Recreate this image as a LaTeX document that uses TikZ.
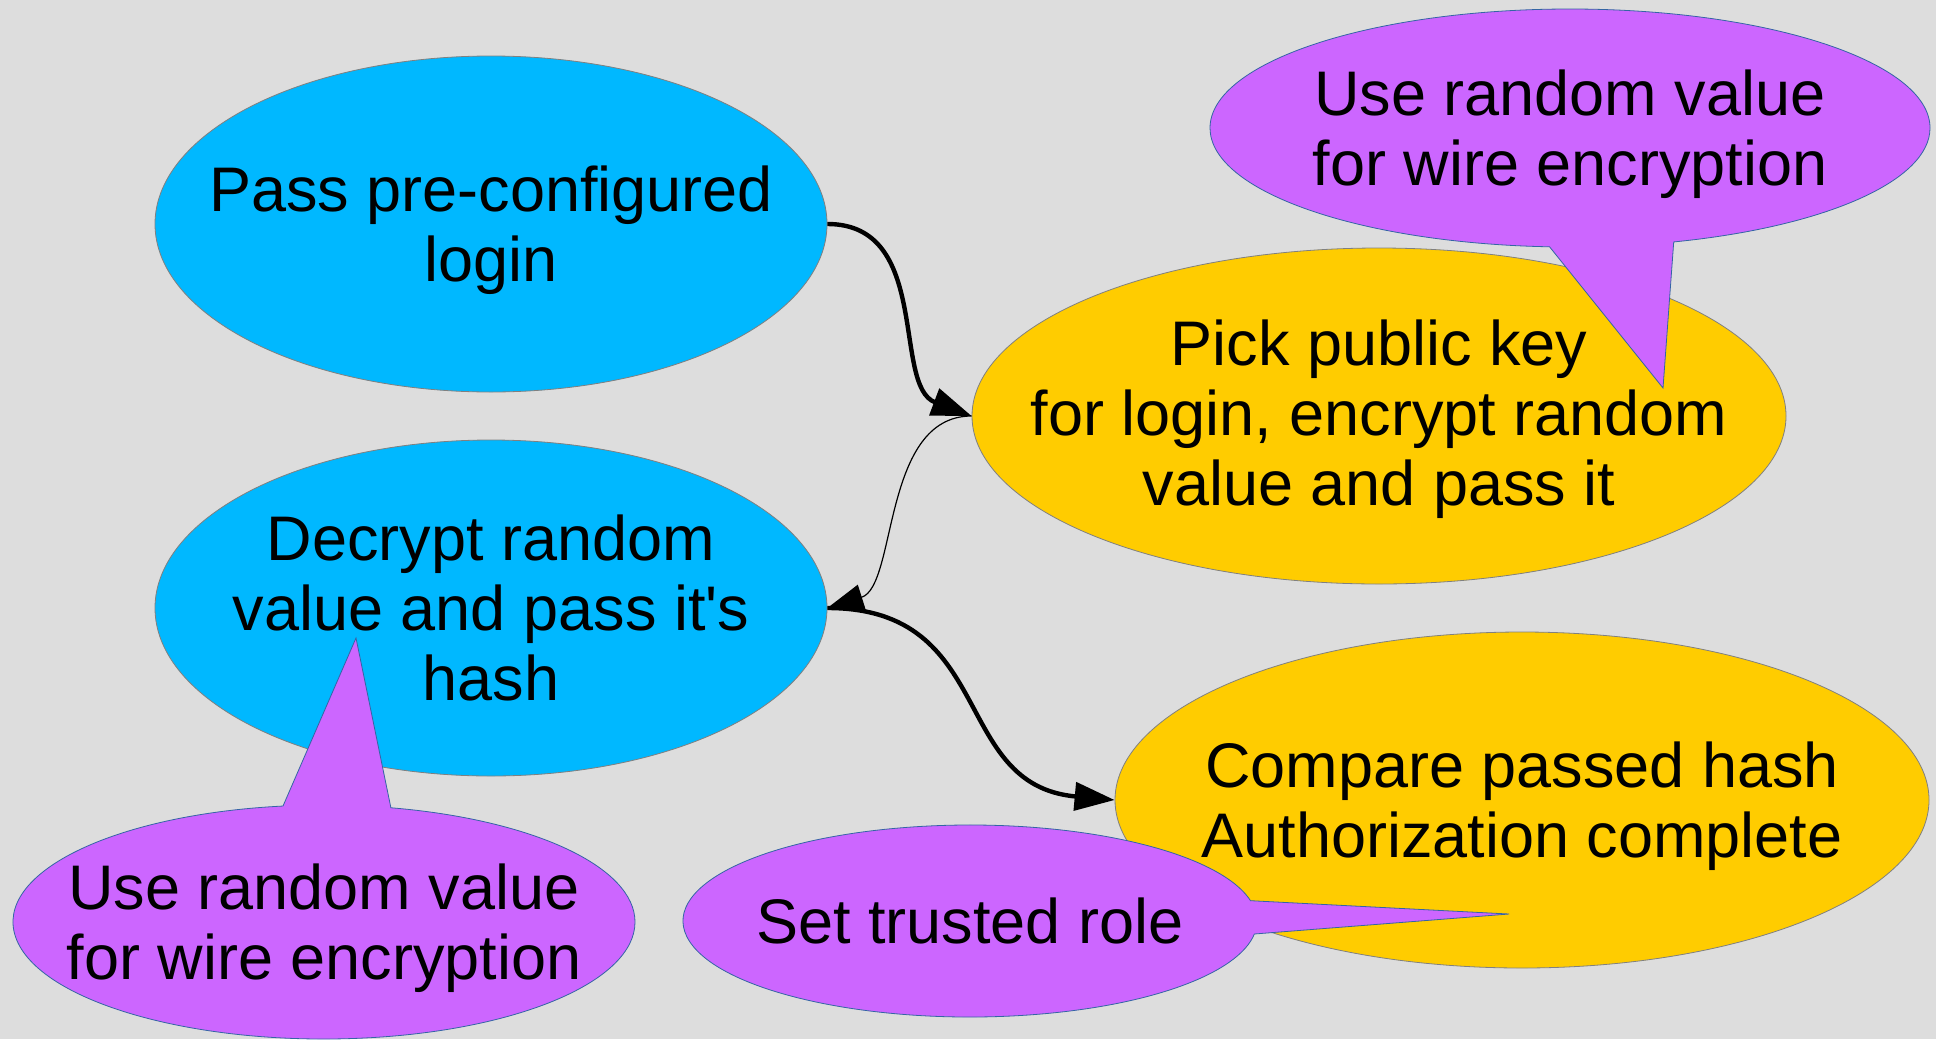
\documentclass[tikz,border=0pt]{standalone}
\usepackage{fontspec}
\setmainfont{Liberation Sans}
\usetikzlibrary{arrows.meta,shapes.geometric,shapes.callouts}
\definecolor{bgray}{HTML}{DDDDDD}
\definecolor{skyblue}{HTML}{00B8FF}
\definecolor{gold}{HTML}{FFCC00}
\definecolor{lilac}{HTML}{CC66FF}
\definecolor{lilacline}{HTML}{3465A4}
\definecolor{rimgray}{HTML}{808080}
\tikzstyle{client}=[ellipse,fill=skyblue,draw=rimgray,line width=0.2pt,inner sep=0pt,minimum width=168pt,minimum height=84pt]
\tikzstyle{server}=[ellipse,fill=gold,draw=rimgray,line width=0.2pt,inner sep=0pt,minimum width=203.5pt,minimum height=84pt]
\tikzstyle{note}=[ellipse callout,fill=lilac,draw=lilacline,line width=0.2pt,inner sep=0pt,callout pointer arc=20]
\tikzstyle{blobtext}=[align=center,inner sep=0pt,font=\fontsize{15.75pt}{17.5pt}\selectfont]
\tikzstyle{flow}=[draw,line width=1.1pt,-{Triangle[length=10pt,width=7pt]}]
\tikzstyle{thin flow}=[draw,line width=0.3pt,-{Triangle[length=9pt,width=6.5pt]}]

\begin{document}
\begin{tikzpicture}[x=0.25pt,y=-0.25pt]
	\fill[bgray] (0,0) rectangle (1936,1039);
	\useasboundingbox (0,0) rectangle (1936,1039);

	% First we draw the ellipses
	\foreach \pos/\name/\kind in {{(491,224)/login/client}, {(491,608)/decrypt/client}, {(1379,416)/pick/server}, {(1522,800)/compare/server}}
	\node[\kind] (\name) at \pos {};

	\foreach \name/\dy/\txt in {login/-1.5pt/{Pass pre-configured\\login}, decrypt/0pt/{Decrypt random\\value and pass it\textquotesingle s\\hash}, pick/-0.75pt/{Pick public key\\for login, encrypt random\\value and pass it}, compare/-1.5pt/{Compare passed hash\\Authorization complete}}
	\node[blobtext,yshift=\dy] (\name-text) at (\name) {\txt};

	% Connect the steps
	\path[flow] (login.east) .. controls +(105,0) and +(-80,-30) .. (pick.west);
	\path[thin flow] (pick.west) .. controls +(-90,0) and +(70,-22) .. (decrypt.east);
	\path[flow] (decrypt.east) .. controls +(170,0) and +(-165,-15) .. (compare.west);

	% Notes on top
	\node[note,minimum width=180pt,minimum height=59.5pt,callout absolute pointer={(1663,388)}] (wire-a) at (1570,128) {};
	\node[note,minimum width=155.5pt,minimum height=58.5pt,callout absolute pointer={(356,638)}] (wire-b) at (324,922) {};
	\node[note,minimum width=143.5pt,minimum height=48pt,callout absolute pointer={(1509,914)}] (trusted) at (970,921) {};

	\foreach \name/\dy/\txt in {wire-a/-1.5pt/{Use random value\\for wire encryption}, wire-b/-1.5pt/{Use random value\\for wire encryption}, trusted/0pt/{Set trusted role}}
	\node[blobtext,yshift=\dy] (\name-text) at (\name) {\txt};
\end{tikzpicture}
\end{document}
